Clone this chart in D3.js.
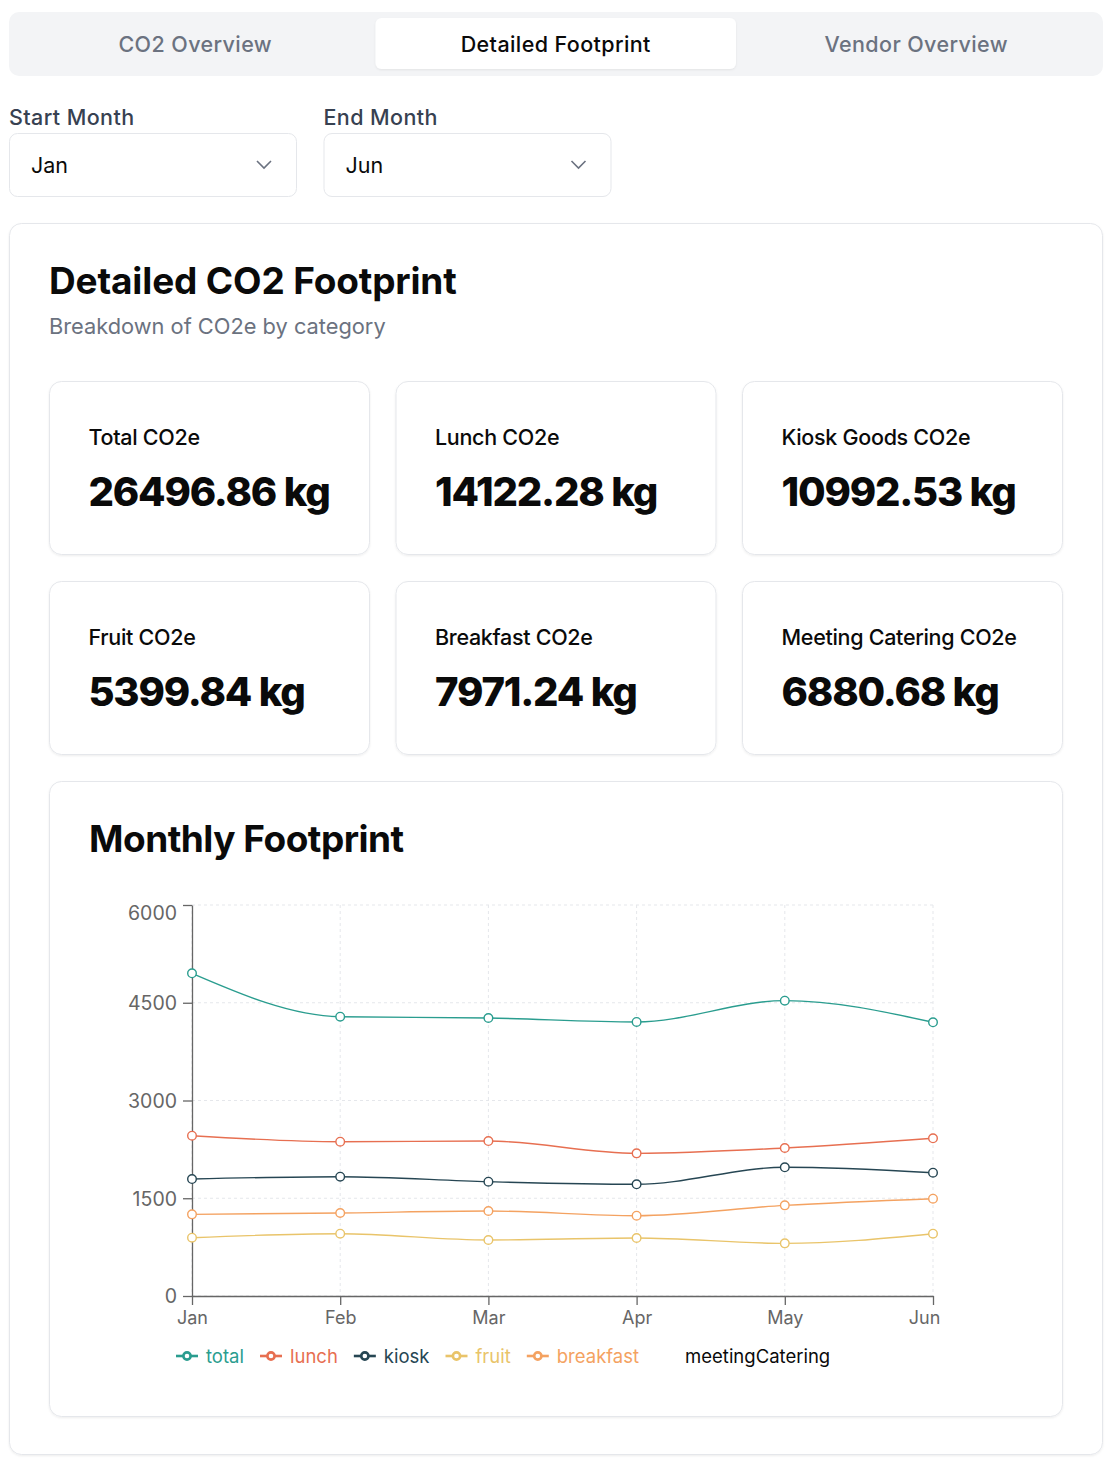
<!DOCTYPE html>
<html>
<head>
<meta charset="utf-8">
<script src="https://cdn.jsdelivr.net/npm/d3@7"></script>
<style>
  body { margin: 0; background: #fff; font-family: Inter, "Noto Sans", sans-serif; }
  svg text { font-family: Inter, "Noto Sans", sans-serif; }
</style>
</head>
<body>
<svg id="page" width="1120" height="1464"></svg>
<script>
// tabs + filters
const tabs = ["CO2 Overview", "Detailed Footprint", "Vendor Overview"];
const activeTab = 1;
const filterLabels = ["Start Month", "End Month"];
const filterValues = ["Jan", "Jun"];

// kpi cards
const kpiLabels = ["Total CO2e", "Lunch CO2e", "Kiosk Goods CO2e", "Fruit CO2e", "Breakfast CO2e", "Meeting Catering CO2e"];
const kpiValues = [26496.86, 14122.28, 10992.53, 5399.84, 7971.24, 6880.68];

// monthly series
const months = ["Jan", "Feb", "Mar", "Apr", "May", "Jun"];
const total = [4952, 4286, 4266, 4205, 4532, 4200];
const lunch = [2460, 2368, 2378, 2189, 2271, 2420];
const kiosk = [1795, 1831, 1754, 1714, 1975, 1892];
const fruit = [895, 956, 859, 890, 808, 956];
const breakfast = [1253, 1274, 1304, 1232, 1391, 1493];
const yTicks = [0, 1500, 3000, 4500, 6000];

const series = [
  { key: "total", values: total, color: "#2a9d8f" },
  { key: "lunch", values: lunch, color: "#e76f51" },
  { key: "kiosk", values: kiosk, color: "#264653" },
  { key: "fruit", values: fruit, color: "#e9c46a" },
  { key: "breakfast", values: breakfast, color: "#f4a261" },
  { key: "meetingCatering", values: null, color: null } // no line rendered
];

const svg = d3.select("#page");

const defs = svg.append("defs");
const sh = defs.append("filter").attr("id", "shadow").attr("x", "-5%").attr("y", "-5%").attr("width", "110%").attr("height", "115%");
sh.append("feDropShadow").attr("dx", 0).attr("dy", 1).attr("stdDeviation", 1.2)
  .attr("flood-color", "#000").attr("flood-opacity", 0.07);

// ---- tab bar
svg.append("rect").attr("x", 9).attr("y", 12).attr("width", 1094).attr("height", 64)
  .attr("rx", 10).attr("fill", "#f3f4f6");
const tabW = 360.5;
tabs.forEach((t, i) => {
  const x0 = 15 + i * tabW;
  if (i === activeTab) {
    svg.append("rect").attr("x", x0).attr("y", 18).attr("width", tabW).attr("height", 51)
      .attr("rx", 6).attr("fill", "#fff").attr("filter", "url(#shadow)");
  }
  svg.append("text").attr("x", x0 + tabW / 2).attr("y", 52)
    .attr("text-anchor", "middle").attr("font-size", 21.5).attr("font-weight", 500)
    .attr("letter-spacing", 0.4)
    .attr("fill", i === activeTab ? "#0a0a0a" : "#6b7280").text(t);
});

// ---- month selects
filterLabels.forEach((lab, i) => {
  const x0 = 9 + i * 314.5;
  svg.append("text").attr("x", x0).attr("y", 125).attr("font-size", 21.5).attr("font-weight", 500)
    .attr("letter-spacing", 0.4).attr("fill", "#374151").text(lab);
  svg.append("rect").attr("x", x0 + 0.5).attr("y", 133.5).attr("width", 287).attr("height", 63)
    .attr("rx", 8).attr("fill", "#fff").attr("stroke", "#e5e7eb");
  svg.append("text").attr("x", x0 + 22).attr("y", 173).attr("font-size", 21.5)
    .attr("fill", "#0a0a0a").text(filterValues[i]);
  svg.append("path").attr("d", `M${x0 + 248},${161} L${x0 + 255},${168} L${x0 + 262},${161}`)
    .attr("fill", "none").attr("stroke", "#6b7280").attr("stroke-width", 1.6);
});

// ---- outer card
svg.append("rect").attr("x", 9.5).attr("y", 223.5).attr("width", 1093).attr("height", 1231)
  .attr("rx", 12).attr("fill", "#fff").attr("stroke", "#e5e7eb").attr("filter", "url(#shadow)");
svg.append("text").attr("x", 49).attr("y", 294).attr("font-size", 37).attr("font-weight", 700)
  .attr("letter-spacing", -0.15).attr("fill", "#0a0a0a").text("Detailed CO2 Footprint");
svg.append("text").attr("x", 49).attr("y", 334).attr("font-size", 21.8).attr("fill", "#6b7280")
  .text("Breakdown of CO2e by category");

// ---- kpi cards
const fmt = d3.format(".2f");
kpiLabels.forEach((lab, i) => {
  const col = i % 3, row = Math.floor(i / 3);
  const x0 = 49.5 + col * 346.5, y0 = 381.5 + row * 200;
  const g = svg.append("g").attr("transform", `translate(${x0},${y0})`);
  g.append("rect").attr("width", 320).attr("height", 173).attr("rx", 12)
    .attr("fill", "#fff").attr("stroke", "#e5e7eb").attr("filter", "url(#shadow)");
  g.append("text").attr("x", 39).attr("y", 63).attr("font-size", 21.5).attr("font-weight", 500)
    .attr("letter-spacing", -0.3).attr("fill", "#0a0a0a").text(lab);
  g.append("text").attr("x", 39).attr("y", 124).attr("font-size", 40).attr("font-weight", 800)
    .attr("letter-spacing", -1.2).attr("fill", "#0a0a0a").text(fmt(kpiValues[i]) + " kg");
});

// ---- chart card
svg.append("rect").attr("x", 49.5).attr("y", 781.5).attr("width", 1013).attr("height", 635)
  .attr("rx", 12).attr("fill", "#fff").attr("stroke", "#e5e7eb").attr("filter", "url(#shadow)");
svg.append("text").attr("x", 89).attr("y", 852).attr("font-size", 37).attr("font-weight", 700)
  .attr("letter-spacing", -0.5).attr("fill", "#0a0a0a").text("Monthly Footprint");

const x = d3.scalePoint().domain(months).range([192, 933]);
const y = d3.scaleLinear().domain([0, 6000]).range([1296, 905]);

const chart = svg.append("g");

// grid
chart.append("g").selectAll("line").data(yTicks).join("line")
  .attr("x1", 192).attr("x2", 933).attr("y1", d => y(d)).attr("y2", d => y(d))
  .attr("stroke", "#e5e7eb").attr("stroke-dasharray", "3 3");
chart.append("g").selectAll("line").data(months).join("line")
  .attr("x1", d => x(d)).attr("x2", d => x(d)).attr("y1", 905).attr("y2", 1296)
  .attr("stroke", "#e5e7eb").attr("stroke-dasharray", "3 3");

// axes
const xAxis = chart.append("g").attr("transform", "translate(0,1296)")
  .call(d3.axisBottom(x).tickSize(9).tickSizeOuter(0).tickPadding(6));
xAxis.selectAll("text").attr("dx", (d, i) => i === months.length - 1 ? -9 : 0);
const yAxis = chart.append("g").attr("transform", "translate(192,0)")
  .call(d3.axisLeft(y).tickValues(yTicks).tickFormat(d3.format("d")).tickSize(9).tickSizeOuter(0).tickPadding(6));
[xAxis, yAxis].forEach(a => {
  a.select(".domain").attr("stroke", "#666").attr("stroke-width", 1.3);
  a.selectAll(".tick line").attr("stroke", "#666").attr("stroke-width", 1.3);
  a.selectAll(".tick text").attr("fill", "#666").attr("font-size", 18)
    .attr("font-family", "Inter, 'Noto Sans', sans-serif");
});
yAxis.selectAll(".tick text").attr("font-size", 19.5)
  .attr("dy", d => d === 6000 ? "0.72em" : "0.35em");

// lines
const line = d3.line().x((d, i) => x(months[i])).y(d => y(d)).curve(d3.curveMonotoneX);
series.filter(s => s.values).forEach(s => {
  chart.append("path").datum(s.values).attr("d", line)
    .attr("fill", "none").attr("stroke", s.color).attr("stroke-width", 1.4);
  chart.append("g").selectAll("circle").data(s.values).join("circle")
    .attr("cx", (d, i) => x(months[i])).attr("cy", d => y(d)).attr("r", 4.3)
    .attr("fill", "#fff").attr("stroke", s.color).attr("stroke-width", 1.4);
});

// legend
const legend = svg.append("g").attr("transform", "translate(176,1356)");
let lx = 0;
series.forEach(s => {
  const g = legend.append("g").attr("transform", `translate(${lx},0)`);
  if (s.color) {
    g.append("line").attr("x1", 0).attr("x2", 22).attr("y1", 0).attr("y2", 0)
      .attr("stroke", s.color).attr("stroke-width", 2.6);
    g.append("circle").attr("cx", 11).attr("cy", 0).attr("r", 3.6)
      .attr("fill", "#fff").attr("stroke", s.color).attr("stroke-width", 2.6);
  }
  const t = g.append("text").attr("x", 30).attr("y", 6.5).attr("font-size", 18.5)
    .attr("fill", s.color || "#0a0a0a").text(s.key);
  lx += 30 + t.node().getComputedTextLength() + 16;
});
</script>
</body>
</html>
